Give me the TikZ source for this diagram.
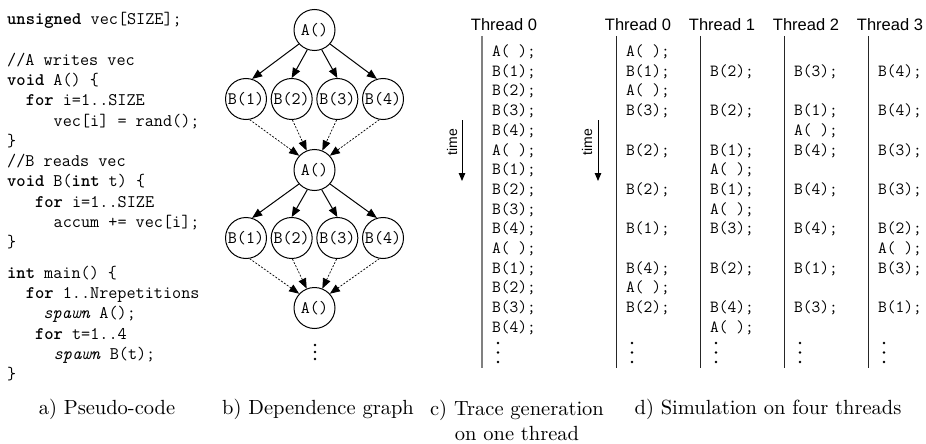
\documentclass[tikz,border=0pt]{standalone}
\usepackage{fontspec}
\newfontfamily\labelfont{Liberation Sans}
\usetikzlibrary{arrows.meta}
\newcommand\codesz{\fontsize{17.7}{20}\selectfont\ttfamily}
\newcommand\vertsz{\fontsize{17.5}{20}\selectfont\ttfamily}
\newcommand\tracesz{\fontsize{17}{20}\selectfont\ttfamily}
\newcommand\hdrsz{\labelfont\fontsize{16.5}{19}\selectfont}
\newcommand\timesz{\labelfont\fontsize{14}{16}\selectfont}

\begin{document}
\begin{tikzpicture}[x=1pt,y=-1pt,
  codeln/.style={anchor=base west,inner sep=0pt,font=\codesz},
  vert/.style={circle,draw,line width=1pt,minimum size=41pt,inner sep=0pt,font=\vertsz},
  calls/.style={-{Triangle[length=10pt,width=8pt]},line width=1pt},
  after/.style={-{Triangle[length=10pt,width=8pt]},line width=0.7pt,dash pattern=on 2pt off 1.5pt},
  hdr/.style={font=\hdrsz,inner sep=0pt},
  entry/.style={anchor=base west,inner sep=0pt,font=\tracesz},
  lane/.style={line width=1pt,black!85},
  singlelane/.style={line width=1.5pt,black!50},
  timearrow/.style={-{Triangle[length=8pt,width=6.5pt]},line width=1pt},
  capt/.style={font=\fontsize{10}{11.8}\selectfont,scale=2.05,align=center,inner sep=0pt}
]
\useasboundingbox (0,0) rectangle (926,444);

% ---------- a) pseudo-code ----------
\node[codeln] (c0)  at (7,24.5)      {\textbf{unsigned} vec[SIZE];};
\node[codeln] (c2)  at (7,65.1)      {//A writes vec};
\node[codeln] (c3)  at (7,85.4)      {\textbf{void} A() \{};
\node[codeln] (c4)  at (25.6,105.7)  {\textbf{for} i=1..SIZE};
\node[codeln] (c5)  at (53.5,126)    {vec[i] = rand();};
\node[codeln] (c6)  at (7,146.3)     {\}};
\node[codeln] (c7)  at (7,166.6)     {//B reads vec};
\node[codeln] (c8)  at (7,186.9)     {\textbf{void} B(\textbf{int} t) \{};
\node[codeln] (c9)  at (34.9,207.2)  {\textbf{for} i=1..SIZE};
\node[codeln] (c10) at (53.5,227.5)  {accum += vec[i];};
\node[codeln] (c11) at (7,247.8)     {\}};
\node[codeln] (c12) at (7,278.3)     {\textbf{int} main() \{};
\node[codeln] (c13) at (25.6,298.6)  {\textbf{for} 1..Nrepetitions};
\node[codeln] (c14) at (43.2,318.9)  {\textit{spawn} A();};
\node[codeln] (c15) at (34.9,339.2)  {\textbf{for} t=1..4};
\node[codeln] (c16) at (53.5,359.5)  {\textit{spawn} B(t);};
\node[codeln] (c17) at (7,379.8)     {\}};

% ---------- b) dependence graph ----------
\node[vert] (a1) at (314.5,30)  {A()};
\node[vert] (a2) at (314.5,170) {A()};
\node[vert] (a3) at (314.5,308) {A()};
\foreach \i [evaluate=\i as \xx using {246+45.67*(\i-1)}] in {1,...,4} {
  \node[vert] (b1\i) at (\xx,99)  {B(\i)};
  \node[vert] (b2\i) at (\xx,238) {B(\i)};
}
\foreach \row/\src/\dst in {1/a1/a2, 2/a2/a3} {
  \draw[calls] (\src.222) -- (b\row1.73);
  \draw[calls] (\src.250) -- (b\row2.90);
  \draw[calls] (\src.290) -- (b\row3.90);
  \draw[calls] (\src.318) -- (b\row4.107);
  \draw[after] (b\row1.280) -- (\dst.137);
  \draw[after] (b\row2.272) -- (\dst.112);
  \draw[after] (b\row3.268) -- (\dst.68);
  \draw[after] (b\row4.260) -- (\dst.43);
}
\foreach \yy in {345,352,359} \fill (315,\yy) circle (1.3pt);

% ---------- c) trace on one thread ----------
\node[hdr] (h) at (504,25) {Thread 0};
\draw[singlelane] (482,36) -- (482,368);
\foreach \r/\t in {0/A( ),1/B(1),2/B(2),3/B(3),4/B(4),
                   5/A( ),6/B(1),7/B(2),8/B(3),9/B(4),
                   10/A( ),11/B(1),12/B(2),13/B(3),14/B(4)}
  \node[entry] (s\r) at (492,{56.5+19.7*\r}) {\t;};
\foreach \yy in {343,352.5,362} \fill (498,\yy) circle (1.3pt);
\node[rotate=90,font=\timesz,inner sep=0pt] (tm1) at (452,142) {time};
\coordinate (t1a) at (462,120);
\coordinate (t1b) at (462,181);
\draw[timearrow] (t1a) -- (t1b);

% ---------- d) simulation on four threads ----------
\node[rotate=90,font=\timesz,inner sep=0pt] (tm2) at (587,142) {time};
\coordinate (t2a) at (598,120);
\coordinate (t2b) at (598,181);
\draw[timearrow] (t2a) -- (t2b);
\foreach \c in {0,...,3} {
  \node[hdr] (h\c) at ({638+84*\c},25) {Thread \c};
  \draw[lane] ({616+84*\c},36) -- ({616+84*\c},368);
  \foreach \yy in {343,352.5,362} \fill ({632+84*\c},\yy) circle (1.3pt);
}
\foreach \c/\r/\t in {
  0/0/A( ),0/1/B(1),0/2/A( ),0/3/B(3),0/5/B(2),0/7/B(2),0/9/B(1),0/11/B(4),0/12/A( ),0/13/B(2),
  1/1/B(2),1/3/B(2),1/5/B(1),1/6/A( ),1/7/B(1),1/8/A( ),1/9/B(3),1/11/B(2),1/13/B(4),1/14/A( ),
  2/1/B(3),2/3/B(1),2/4/A( ),2/5/B(4),2/7/B(4),2/9/B(4),2/11/B(1),2/13/B(3),
  3/1/B(4),3/3/B(4),3/5/B(3),3/7/B(3),3/9/B(2),3/10/A( ),3/11/B(3),3/13/B(1)}
  \node[entry] (e\c-\r) at ({626+84*\c},{56.5+19.7*\r}) {\t;};

% ---------- captions ----------
\node[capt] (capa) at (107,409)   {a) Pseudo-code};
\node[capt] (capb) at (318,409)   {b) Dependence graph};
\node[capt] (capc) at (517,420.5) {c) Trace generation\\on one thread};
\node[capt] (capd) at (768,409)   {d) Simulation on four threads};
\end{tikzpicture}
\end{document}
